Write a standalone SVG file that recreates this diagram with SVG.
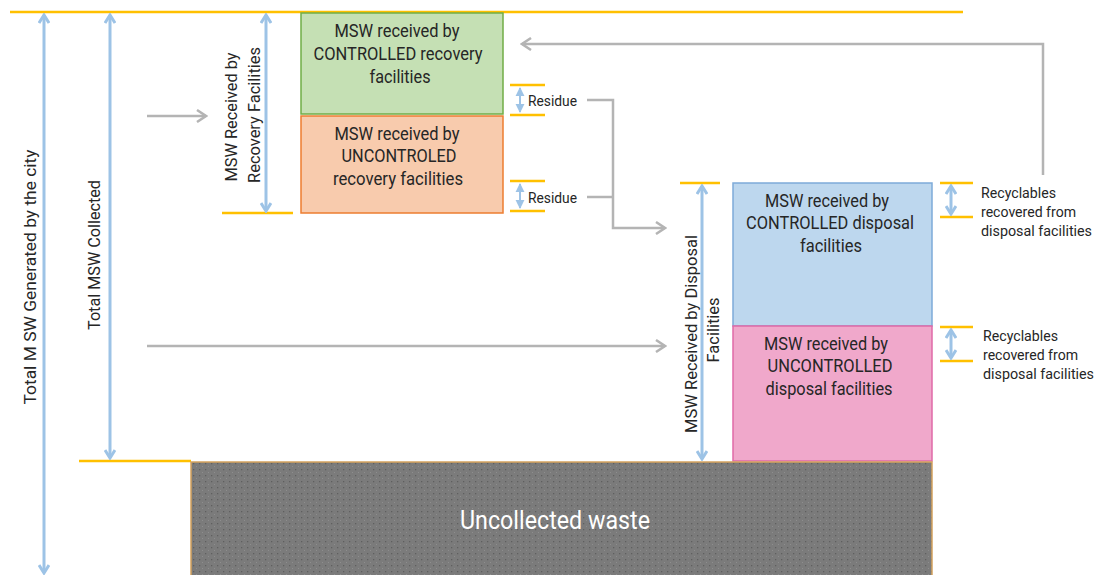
<svg xmlns="http://www.w3.org/2000/svg" width="1098" height="575" viewBox="0 0 1098 575">
<defs>
<style>
.t{font-family:Roboto,"Liberation Sans",sans-serif;font-size:18px;fill:#262626}
.v{font-family:Roboto,"Liberation Sans",sans-serif;font-size:17px;fill:#262626}
.s{font-family:Roboto,"Liberation Sans",sans-serif;font-size:15px;fill:#262626}
.or{stroke:#ffc000;stroke-width:2.5;fill:none}
.bl{stroke:#9dc3e6;stroke-width:3;fill:none}
.gr{stroke:#b4b4b4;stroke-width:2.5;fill:none}
</style>
<marker id="ab" viewBox="0 0 12 12" refX="10" refY="6" markerWidth="12" markerHeight="12" markerUnits="userSpaceOnUse" orient="auto-start-reverse">
<path d="M2,1 L10,6 L2,11" fill="none" stroke="#9dc3e6" stroke-width="3"/>
</marker>
<marker id="ag" viewBox="0 0 14 14" refX="12" refY="7" markerWidth="14" markerHeight="14" markerUnits="userSpaceOnUse" orient="auto">
<path d="M3,1 L12,7 L3,13" fill="none" stroke="#b4b4b4" stroke-width="2.5"/>
</marker>
<marker id="sb" viewBox="0 0 10 10" refX="9" refY="5" markerWidth="9" markerHeight="10" markerUnits="userSpaceOnUse" orient="auto-start-reverse">
<path d="M0,0 L10,5 L0,10 Z" fill="#9dc3e6"/>
</marker>
<pattern id="dots" width="6" height="6" patternUnits="userSpaceOnUse">
<rect width="6" height="6" fill="#7b7b7b"/>
<rect x="1" y="1" width="1.3" height="1.3" fill="#5f5f5f"/>
<rect x="4" y="4" width="1" height="1" fill="#8e8e8e"/>
</pattern>
</defs>

<g id="guides">
<line class="or" x1="10" y1="12" x2="963" y2="12"/>
<line class="or" x1="79" y1="461" x2="191" y2="461"/>
<line class="or" x1="222" y1="213" x2="293" y2="213"/>
<line class="or" x1="680" y1="183" x2="720" y2="183"/>
<line class="or" x1="510" y1="85" x2="545" y2="85"/>
<line class="or" x1="510" y1="115" x2="545" y2="115"/>
<line class="or" x1="510" y1="181" x2="545" y2="181"/>
<line class="or" x1="510" y1="211" x2="545" y2="211"/>
<line class="or" x1="940" y1="183" x2="973" y2="183"/>
<line class="or" x1="940" y1="217" x2="973" y2="217"/>
<line class="or" x1="940" y1="327" x2="973" y2="327"/>
<line class="or" x1="940" y1="361" x2="973" y2="361"/>
</g>

<g id="dimensions">
<line class="bl" x1="44" y1="15" x2="44" y2="573" marker-start="url(#ab)" marker-end="url(#ab)"/>
<line class="bl" x1="110" y1="15" x2="110" y2="458" marker-start="url(#ab)" marker-end="url(#ab)"/>
<line class="bl" x1="266" y1="15" x2="266" y2="211" marker-start="url(#ab)" marker-end="url(#ab)"/>
<line class="bl" x1="702" y1="186" x2="702" y2="459" marker-start="url(#ab)" marker-end="url(#ab)"/>
<line stroke="#9dc3e6" stroke-width="2" x1="520" y1="88" x2="520" y2="112" marker-start="url(#sb)" marker-end="url(#sb)"/>
<line stroke="#9dc3e6" stroke-width="2" x1="520" y1="184" x2="520" y2="208" marker-start="url(#sb)" marker-end="url(#sb)"/>
<line class="bl" stroke-width="2" x1="951" y1="186" x2="951" y2="214" marker-start="url(#ab)" marker-end="url(#ab)"/>
<line class="bl" stroke-width="2" x1="951" y1="330" x2="951" y2="358" marker-start="url(#ab)" marker-end="url(#ab)"/>
<text class="v" transform="translate(36,277) rotate(-90)" text-anchor="middle" textLength="255" lengthAdjust="spacingAndGlyphs">Total M SW  Generated by the city</text>
<text class="v" transform="translate(100,255) rotate(-90)" text-anchor="middle" textLength="150" lengthAdjust="spacingAndGlyphs">Total MSW Collected</text>
<text class="v" transform="translate(237,117) rotate(-90)" text-anchor="middle" textLength="129" lengthAdjust="spacingAndGlyphs">MSW Received by</text>
<text class="v" transform="translate(260,115) rotate(-90)" text-anchor="middle" textLength="136" lengthAdjust="spacingAndGlyphs">Recovery Facilities</text>
<text class="v" transform="translate(697,334) rotate(-90)" text-anchor="middle" textLength="198" lengthAdjust="spacingAndGlyphs">MSW Received by Disposal</text>
<text class="v" transform="translate(719,330) rotate(-90)" text-anchor="middle" textLength="65" lengthAdjust="spacingAndGlyphs">Facilities</text>
<text class="s" x="528" y="106" textLength="49" lengthAdjust="spacingAndGlyphs">Residue</text>
<text class="s" x="528" y="203" textLength="49" lengthAdjust="spacingAndGlyphs">Residue</text>
<text class="s"><tspan x="981" y="198" textLength="75" lengthAdjust="spacingAndGlyphs">Recyclables</tspan><tspan x="981" y="217" textLength="95" lengthAdjust="spacingAndGlyphs">recovered from</tspan><tspan x="981" y="236" textLength="111" lengthAdjust="spacingAndGlyphs">disposal facilities</tspan></text>
<text class="s"><tspan x="983" y="341" textLength="75" lengthAdjust="spacingAndGlyphs">Recyclables</tspan><tspan x="983" y="360" textLength="95" lengthAdjust="spacingAndGlyphs">recovered from</tspan><tspan x="983" y="379" textLength="111" lengthAdjust="spacingAndGlyphs">disposal facilities</tspan></text>
</g>

<g id="connectors">
<line class="gr" x1="147" y1="116" x2="206" y2="116" marker-end="url(#ag)"/>
<line class="gr" x1="147" y1="346" x2="665" y2="346" marker-end="url(#ag)"/>
<polyline class="gr" points="587,100 613,100 613,228 665,228" marker-end="url(#ag)"/>
<line class="gr" stroke-width="3.5" x1="587" y1="197" x2="613" y2="197"/>
<polyline class="gr" points="1043,175 1043,44 522,44" marker-end="url(#ag)"/>
</g>

<g id="controlled-recovery">
<rect x="301" y="13" width="202" height="101" fill="#c5e0b4" stroke="#70ad47" stroke-width="1.5"/>
<text class="t" text-anchor="middle"><tspan x="397" y="37" textLength="125" lengthAdjust="spacingAndGlyphs">MSW received by</tspan><tspan x="398" y="60" textLength="169" lengthAdjust="spacingAndGlyphs">CONTROLLED recovery</tspan><tspan x="400" y="83" textLength="61" lengthAdjust="spacingAndGlyphs">facilities</tspan></text>
</g>
<g id="uncontrolled-recovery">
<rect x="301" y="116" width="202" height="97" fill="#f8cbad" stroke="#ed7d31" stroke-width="1.5"/>
<text class="t" text-anchor="middle"><tspan x="397" y="140" textLength="125" lengthAdjust="spacingAndGlyphs">MSW received by</tspan><tspan x="399" y="162" textLength="115" lengthAdjust="spacingAndGlyphs">UNCONTROLED</tspan><tspan x="398" y="185" textLength="130" lengthAdjust="spacingAndGlyphs">recovery facilities</tspan></text>
</g>
<g id="controlled-disposal">
<rect x="733" y="183" width="199" height="143" fill="#bdd7ee" stroke="#7eabd9" stroke-width="1.5"/>
<text class="t" text-anchor="middle"><tspan x="827" y="207" textLength="124" lengthAdjust="spacingAndGlyphs">MSW received by</tspan><tspan x="830" y="229" textLength="168" lengthAdjust="spacingAndGlyphs">CONTROLLED disposal</tspan><tspan x="831" y="252" textLength="62" lengthAdjust="spacingAndGlyphs">facilities</tspan></text>
</g>
<g id="uncontrolled-disposal">
<rect x="733" y="326" width="199" height="135" fill="#f0a8cb" stroke="#e06aa8" stroke-width="1.5"/>
<text class="t" text-anchor="middle"><tspan x="826" y="350" textLength="124" lengthAdjust="spacingAndGlyphs">MSW received by</tspan><tspan x="830" y="372" textLength="125" lengthAdjust="spacingAndGlyphs">UNCONTROLLED</tspan><tspan x="829" y="395" textLength="127" lengthAdjust="spacingAndGlyphs">disposal facilities</tspan></text>
</g>
<g id="uncollected">
<rect x="191" y="462" width="741" height="116" fill="url(#dots)" stroke="#d5a35e" stroke-width="1.5"/>
<text x="555" y="529" text-anchor="middle" font-family="Roboto,'Liberation Sans',sans-serif" font-size="25" fill="#ffffff" textLength="190" lengthAdjust="spacingAndGlyphs">Uncollected waste</text>
</g>
</svg>
